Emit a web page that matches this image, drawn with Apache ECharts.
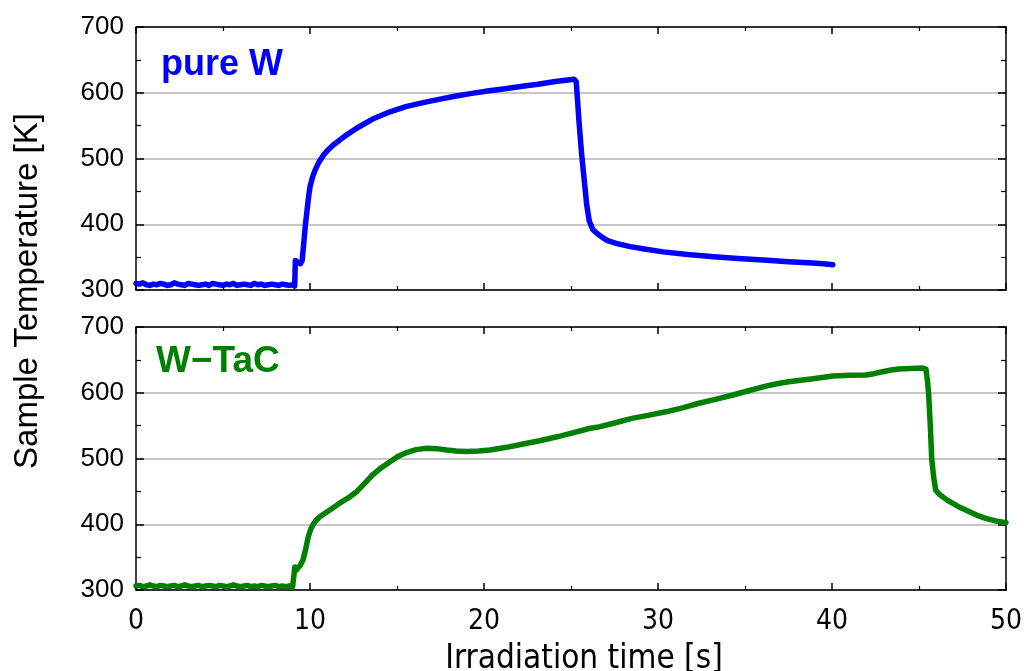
<!DOCTYPE html>
<html>
<head>
<meta charset="utf-8">
<script src="https://cdn.jsdelivr.net/npm/echarts@6/dist/echarts.min.js"></script>
<style>html,body{margin:0;padding:0;background:#fff}#c{width:1025px;height:671px}</style>
</head>
<body>
<div id="c"></div>
<script>
// ---- data ----
const xTicks = [0, 10, 20, 30, 40, 50];
const yTicks = [300, 400, 500, 600, 700];

const pureW_time = [0,0.2,0.4,0.6,0.8,1.0,1.2,1.4,1.6,1.8,2.0,2.2,2.4,2.6,2.8,3.0,3.2,3.4,3.6,3.8,4.0,4.2,4.4,4.6,4.8,5.0,5.2,5.4,5.6,5.8,6.0,6.2,6.4,6.6,6.8,7.0,7.2,7.4,7.6,7.8,8.0,8.2,8.4,8.6,8.8,9.0,
  9.12,9.16,9.3,9.45,9.55,9.64,9.74,9.83,9.92,10.0,10.15,10.29,10.5,10.77,11.0,11.34,12.0,12.68,13.6,14.6,15.5,16.5,17.4,18.4,19.3,20.3,21.2,22.2,23.1,24.1,24.7,25.17,
  25.3,25.45,25.6,25.75,25.9,26.05,26.25,26.5,26.8,27.1,27.6,28.4,29.3,30.3,31.7,33.2,34.6,36.05,37.5,38.9,39.5,40.05];
const pureW_temp = [310,309,311,308,307,309,308,310,309,307,308,311,309,308,307,310,309,308,307,308,309,307,310,309,308,307,309,308,310,307,308,309,308,307,310,308,309,307,308,309,308,307,309,308,307,308,
  306,345,342,340,345,371,400,421,442,457,472,482,494,505,512,520.5,534,546,560,571,579,585,590,595,599,603,606,610,613,617,619,620.5,
  617,560,510,470,430,405,392,386,380,375,371,366,362,358,354,350.7,348,345.6,343,341,340,338.5];

const wtac_time = [0,0.2,0.4,0.6,0.8,1.0,1.2,1.4,1.6,1.8,2.0,2.2,2.4,2.6,2.8,3.0,3.2,3.4,3.6,3.8,4.0,4.2,4.4,4.6,4.8,5.0,5.2,5.4,5.6,5.8,6.0,6.2,6.4,6.6,6.8,7.0,7.2,7.4,7.6,7.8,8.0,8.2,8.4,8.6,8.8,9.0,
  9.13,9.2,9.3,9.45,9.6,9.75,9.9,10.05,10.17,10.35,10.56,11.1,11.7,12.2,12.68,13.1,13.6,14.1,14.6,15.05,15.55,16.1,16.7,17.3,17.85,18.4,19.0,19.7,20.35,21.3,22.25,23.2,24.2,25.1,26.1,26.6,27.5,28.5,29.5,30.45,31.4,32.35,33.3,34.3,35.2,36.2,36.9,37.6,38.8,40.05,41.0,41.95,42.4,42.9,43.4,43.85,44.5,45.2,
  45.4,45.5,45.55,45.65,45.73,45.85,45.96,46.15,46.35,46.6,46.92,47.4,47.9,48.4,48.83,49.4,50];
const wtac_temp = [306,307,305,306,308,306,305,307,306,305,306,307,305,306,308,306,305,306,307,305,306,307,306,305,307,306,305,306,308,306,305,306,307,305,306,305,307,306,305,306,307,305,306,305,306,305,
  335,330,333,338,346,362,381,393,399,406,411.5,421,432,440,449.5,461,475,486,495,503,509,513.5,515.5,515,513,511.5,510.5,511.5,513,517,522,527,533,539,546,548,554,561,566,571,577,584,590,596.6,603,610,614,617,621,625.5,626.5,627,629,632,634.5,636,637,637.5,
  636,615,600,550,500,470,452,446,442,437,432,425,419,413,409,405,402.5];

const pureLabel = 'pure W';
const wtacLabel = 'W\u2212TaC';
const xTitle = 'Irradiation time [s]';
const yTitle = 'Sample Temperature [K]';

function zip(a, b) { return a.map((v, i) => [v, b[i]]); }

// ---- chart ----
const chart = echarts.init(document.getElementById('c'), null, {renderer: 'canvas'});
const lineCol = '#000';
function xAx(grid, pos, labels) {
  return {
    type: 'value', gridIndex: grid, position: pos, min: xTicks[0], max: xTicks[xTicks.length - 1], interval: 10,
    axisLine: {show: true, onZero: false, lineStyle: {color: lineCol, width: 1.5}},
    axisTick: {show: true, inside: true, length: 7, lineStyle: {color: lineCol, width: 1.5}},
    minorTick: {show: true, splitNumber: 2, length: 4, lineStyle: {color: lineCol, width: 1.2}},
    axisLabel: {show: labels, margin: 18, color: '#000', fontSize: 28, fontFamily: "'Liberation Sans Narrow','DejaVu Sans Condensed',sans-serif"},
    splitLine: {show: false},
    name: labels ? xTitle : '', nameLocation: 'middle', nameGap: 53,
    nameTextStyle: {color: '#000', fontSize: 33, padding: [0, 0, 0, 26], fontFamily: "'DejaVu Sans Condensed','Liberation Sans Narrow',sans-serif"}
  };
}
function yAx(grid, pos, labels) {
  return {
    type: 'value', gridIndex: grid, position: pos, min: yTicks[0], max: yTicks[yTicks.length - 1], interval: 100,
    axisLine: {show: true, onZero: false, lineStyle: {color: lineCol, width: 1.5}},
    axisTick: {show: true, inside: true, length: 8, lineStyle: {color: lineCol, width: 1.5}},
    minorTick: {show: true, splitNumber: 2, length: 5, lineStyle: {color: lineCol, width: 1.2}},
    axisLabel: {show: labels, margin: 12, color: '#000', fontSize: 26, fontFamily: "'Liberation Sans',Arial,sans-serif"},
    splitLine: {show: labels, lineStyle: {color: '#b4b4b4', width: 1.5}}
  };
}
const option = {
  animation: false,
  backgroundColor: '#fff',
  grid: [
    {left: 136, width: 870, top: 27, height: 263, outerBoundsMode: 'none', containLabel: false},
    {left: 136, width: 870, top: 327, height: 263, outerBoundsMode: 'none', containLabel: false}
  ],
  xAxis: [xAx(0, 'bottom', false), xAx(0, 'top', false), xAx(1, 'bottom', true), xAx(1, 'top', false)],
  yAxis: [yAx(0, 'left', true), yAx(0, 'right', false), yAx(1, 'left', true), yAx(1, 'right', false)],
  series: [
    {type: 'line', xAxisIndex: 0, yAxisIndex: 0, data: zip(pureW_time, pureW_temp), showSymbol: false,
     lineStyle: {color: '#0000ff', width: 5.5, join: 'round', cap: 'round'}, z: 3},
    {type: 'line', xAxisIndex: 2, yAxisIndex: 2, data: zip(wtac_time, wtac_temp), showSymbol: false,
     lineStyle: {color: '#008000', width: 5.5, join: 'round', cap: 'round'}, z: 3}
  ],
  graphic: [
    {type: 'text', left: 161, top: 47, style: {text: pureLabel, fill: '#0000ff', font: "bold 36px 'Liberation Sans', Arial, sans-serif"}},
    {type: 'text', left: 156, top: 343, style: {text: wtacLabel, fill: '#008000', font: "bold 37px 'Liberation Sans', Arial, sans-serif"}},
    {type: 'text', x: 28, y: 291, rotation: Math.PI / 2,
     style: {text: yTitle, fill: '#000', font: "33px 'Liberation Sans', Arial, sans-serif", textAlign: 'center', textVerticalAlign: 'middle'}}
  ]
};
chart.setOption(option);
</script>
</body>
</html>
